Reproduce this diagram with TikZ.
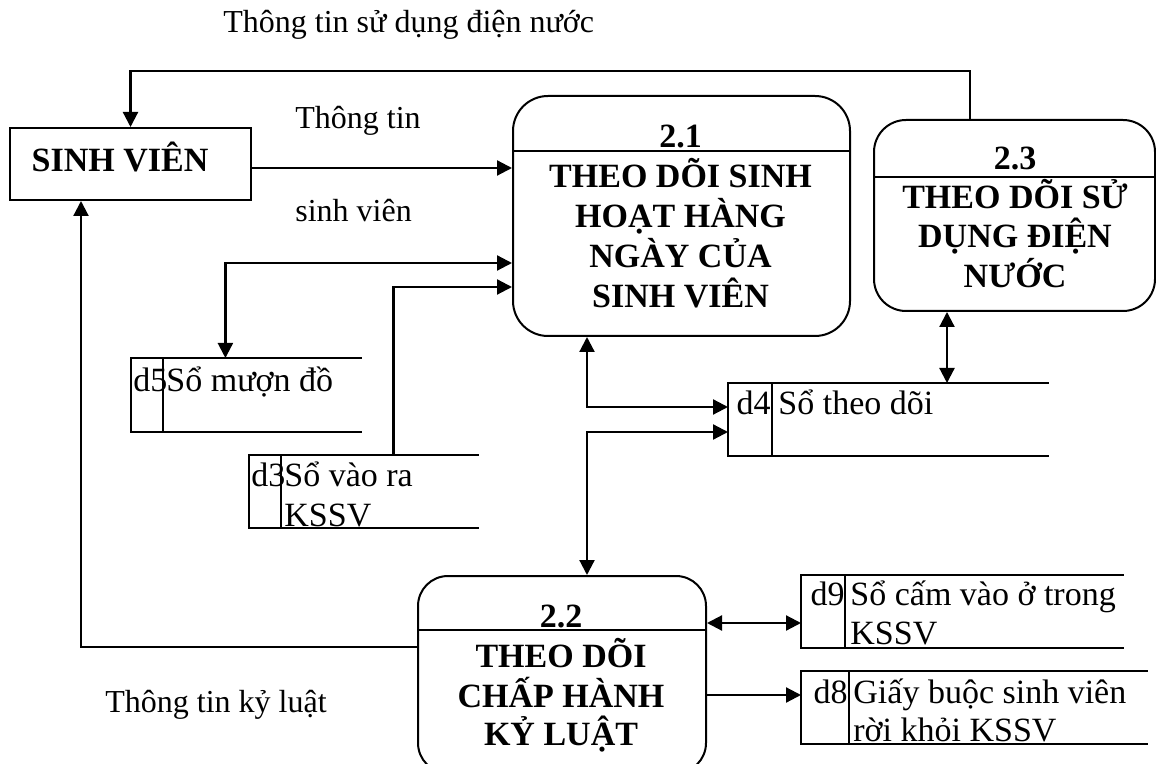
\documentclass[tikz,border=0pt]{standalone}
\usepackage{fontspec}
\setmainfont{Liberation Serif}
\usetikzlibrary{arrows.meta}
% open-ended data store: top, left and bottom sides plus the id divider
\newcommand{\storelines}[2]{%
  \draw[edge] (#1.north east) -- (#1.north west) -- (#1.south west) -- (#1.south east);
  \draw[edge] ([xshift=#2]#1.north west) -- ([xshift=#2]#1.south west);}
\begin{document}
\begin{tikzpicture}[x=0.5pt,y=-0.5pt,
  edge/.style={line width=1pt},
  proc/.style={draw, line width=1pt, inner sep=0pt, anchor=north west},
  ent/.style={draw, line width=1pt, inner sep=0pt, anchor=north west},
  store/.style={inner sep=0pt, anchor=north west},
  tip/.tip={Triangle[length=7.5pt,width=7.5pt]},
  flow/.style={line width=1.1pt, -tip},
  bothway/.style={line width=1.1pt, tip-tip},
  lbl/.style={inner sep=0pt, anchor=base west, font=\fontsize{16}{19}\selectfont},
  ptxt/.style={inner sep=0pt, anchor=base, font=\fontsize{17}{20}\selectfont\bfseries},
  stxt/.style={inner sep=0pt, anchor=base west, font=\fontsize{17}{20}\selectfont},
  snum/.style={inner sep=0pt, anchor=base east, font=\fontsize{17}{20}\selectfont},
]
\useasboundingbox (0,0) rectangle (1156,764);
\clip (0,0) rectangle (1156,764);

% external entity
\node[ent, minimum width=120.5pt, minimum height=36pt] (sv) at (9,127) {};
\node[ptxt] (svt) at (120,172) {SINH VIÊN};

% processes
\node[proc, rounded corners=17.5pt, minimum width=168.5pt, minimum height=120pt] (p21) at (512,95) {};
\draw[edge] ([yshift=-28pt]p21.north west) -- ([yshift=-28pt]p21.north east);
\node[ptxt] (p21n) at (680.5,148) {2.1};
\node[ptxt] (p21a) at (680.5,188) {THEO DÕI SINH};
\node[ptxt] (p21b) at (680.5,228) {HOẠT HÀNG};
\node[ptxt] (p21c) at (680.5,268) {NGÀY CỦA};
\node[ptxt] (p21d) at (680.5,308) {SINH VIÊN};

\node[proc, rounded corners=16pt, minimum width=140.5pt, minimum height=95.5pt] (p23) at (873,119) {};
\draw[edge] ([yshift=-29pt]p23.north west) -- ([yshift=-29pt]p23.north east);
\node[ptxt] (p23n) at (1015,170) {2.3};
\node[ptxt] (p23a) at (1015,209) {THEO DÕI SỬ};
\node[ptxt] (p23b) at (1015,248) {DỤNG ĐIỆN};
\node[ptxt] (p23c) at (1015,288) {NƯỚC};

\node[proc, rounded corners=15pt, minimum width=144pt, minimum height=98.5pt] (p22) at (417,575) {};
\draw[edge] ([yshift=-27.5pt]p22.north west) -- ([yshift=-27.5pt]p22.north east);
\node[ptxt] (p22n) at (561,627) {2.2};
\node[ptxt] (p22a) at (561,667) {THEO DÕI};
\node[ptxt] (p22b) at (561,707) {CHẤP HÀNH};
\node[ptxt] (p22c) at (561,745) {KỶ LUẬT};

% data stores
\node[store, minimum width=115pt, minimum height=36.5pt] (d5) at (131,358) {};
\storelines{d5}{16pt}
\node[stxt] (d5n) at (133,392) {d5};
\node[stxt] (d5t) at (166,392) {Sổ mượn đồ};

\node[store, minimum width=114.5pt, minimum height=36pt] (d3) at (249,455) {};
\storelines{d3}{16pt}
\node[stxt] (d3n) at (251,487) {d3};
\node[stxt] (d3t) at (284,487) {Sổ vào ra};
\node[stxt] (d3u) at (284,526) {KSSV};

\node[store, minimum width=160pt, minimum height=36pt] (d4) at (728,383) {};
\storelines{d4}{22pt}
\node[snum] (d4n) at (771,415) {d4};
\node[stxt] (d4t) at (778,415) {Sổ theo dõi};

\node[store, minimum width=161pt, minimum height=36pt] (d9) at (801,575) {};
\storelines{d9}{22pt}
\node[snum] (d9n) at (845,605) {d9};
\node[stxt] (d9t) at (850,605) {Sổ cấm vào ở trong};
\node[stxt] (d9u) at (850,644) {KSSV};

\node[store, minimum width=173pt, minimum height=36pt] (d8) at (801,671) {};
\storelines{d8}{24pt}
\node[snum] (d8n) at (848,703) {d8};
\node[stxt] (d8t) at (853,703) {Giấy buộc sinh viên};
\node[stxt] (d8u) at (853,741) {rời khỏi KSSV};

% flow labels
\node[lbl] (l1) at (223,33) {Thông tin sử dụng điện nước};
\node[lbl] (l2) at (295,129) {Thông tin};
\node[lbl] (l3) at (295,222) {sinh viên};
\node[lbl] (l4) at (105,712) {Thông tin kỷ luật};

% routing levels
\coordinate (ytop) at (0,71);
\coordinate (y263) at (0,263);
\coordinate (y287) at (0,287);
\coordinate (y407) at (0,407);
\coordinate (y432) at (0,432);
\coordinate (y623) at (0,623);
\coordinate (y647) at (0,647);
\coordinate (y695) at (0,695);

% flows
\draw[flow] ([xshift=-22.25pt]p23.north) |- (sv.north |- ytop) -- (sv.north);
\draw[flow] ([yshift=-2pt]sv.east) -- ([yshift=-2pt]sv.east -| p21.west);
\draw[bothway] ([xshift=-10.5pt]d5.north) |- (p21.west |- y263);
\draw[flow] ([xshift=14.75pt]d3.north) |- (p21.west |- y287);
\draw[bothway] ([xshift=-47.25pt]p21.south) |- (d4.west |- y407);
\draw[bothway] (d4.west |- y432) -| ([xshift=12.5pt]p22.north);
\draw[bothway] ([xshift=-33.75pt]p23.south) -- ([xshift=-33.75pt]p23.south |- d4.north);
\draw[flow] (p22.west |- y647) -| ([xshift=-24.75pt]sv.south);
\draw[bothway] (p22.east |- y623) -- (d9.west |- y623);
\draw[flow] (p22.east |- y695) -- (d8.west |- y695);
\end{tikzpicture}
\end{document}
